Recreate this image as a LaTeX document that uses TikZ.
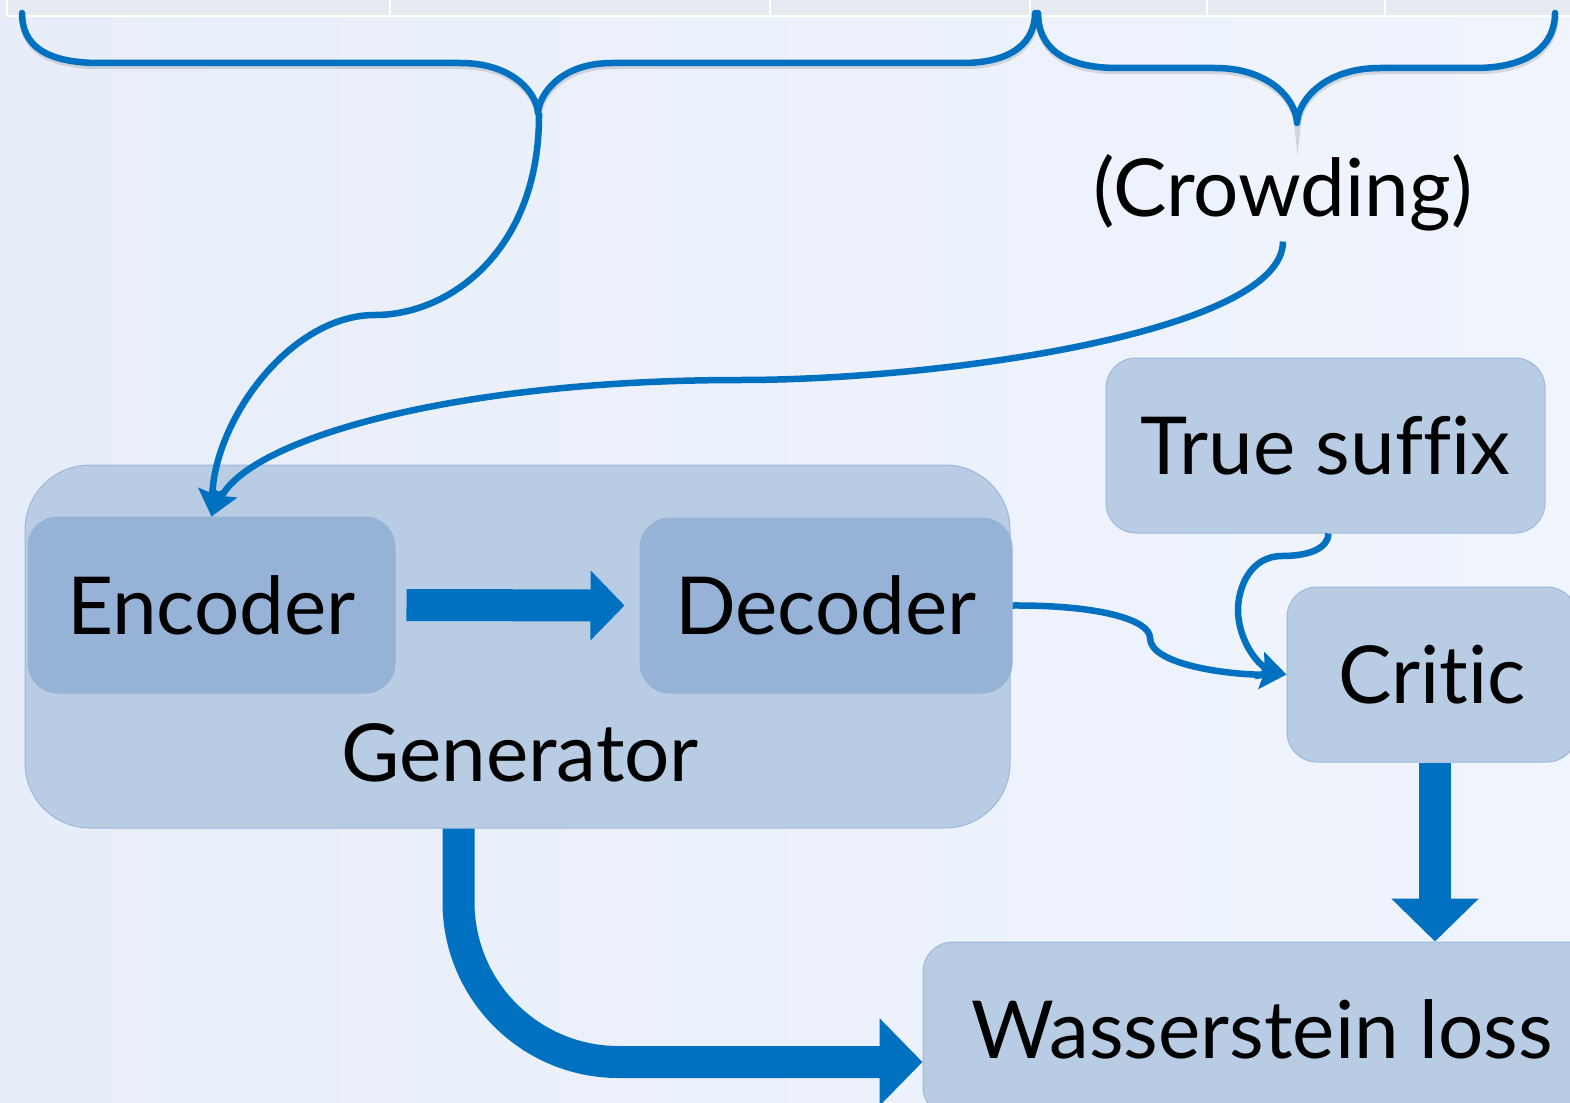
\documentclass[tikz,border=0pt]{standalone}
\usepackage{fontspec}
\setmainfont[Ligatures={NoCommon,NoContextual}]{Lato}
\usetikzlibrary{arrows.meta,calc}
\definecolor{bgL}{HTML}{E8EEF9}
\definecolor{bgR}{HTML}{EFF4FD}
\definecolor{strip}{HTML}{E6EBF2}
\definecolor{conn}{HTML}{0070C0}
\definecolor{outerfill}{HTML}{B8CCE4}
\definecolor{innerfill}{HTML}{96B3D7}
\definecolor{boxline}{HTML}{9DB8DA}
\tikzset{
  boxbase/.style={inner sep=0pt, font=\fontsize{80}{90}\selectfont},
  outerbox/.style={boxbase, draw=boxline, line width=1pt, fill=outerfill, rounded corners=30pt},
  innerbox/.style={boxbase, draw=innerfill, line width=1pt, fill=innerfill, rounded corners=30pt},
  lbl/.style={inner sep=0pt, font=\fontsize{80}{90}\selectfont},
  brace/.style={draw=conn, line width=6.5pt, line cap=round, line join=round,
    preaction={draw=black, opacity=0.12, line width=6.5pt, transform canvas={shift={(0.5pt,-3pt)}}}},
  thin/.style={draw=conn, line width=6.5pt, -{Stealth[width=28pt,length=28pt,inset=5pt]}},
  fat/.style={draw=conn, line width=32pt, -{Triangle[width=68pt,length=34pt]}},
  fatbig/.style={draw=conn, line width=32pt, -{Triangle[width=85pt,length=43pt]}},
}
\begin{document}
\begin{tikzpicture}[x=1pt,y=-1pt]
\useasboundingbox (0,0) rectangle (1570,1102);
\clip (0,0) rectangle (1570,1102);
\shade[left color=bgL, right color=bgR] (0,0) rectangle (1570,1102);
% top strip
\fill[strip] (7,0) rectangle (1570,16);
\draw[white, line width=2pt] (7,16) -- (1570,16);
\foreach \xx in {7,390,770,1030,1207,1385} \draw[white, line width=2pt] (\xx,0) -- (\xx,16);
% braces
\draw[brace] (22,13) .. controls (22,45) and (45,63) .. (100,63) -- (460,63)
  .. controls (515,63) and (537,95) .. (538,113)
  .. controls (539,95) and (560,63) .. (612,63) -- (962,63)
  .. controls (1015,63) and (1035,40) .. (1035,13);
\draw[brace] (1038,13) .. controls (1038,45) and (1060,68) .. (1118,68) -- (1215,68)
  .. controls (1270,68) and (1296,100) .. (1297,123)
  .. controls (1298,100) and (1325,68) .. (1380,68) -- (1475,68)
  .. controls (1530,68) and (1555,45) .. (1555,13);
\coordinate (lbtip) at (539,113);
\coordinate (rbtip) at (1297,123);
% boxes
\node[outerbox, rounded corners=65pt, minimum width=985pt, minimum height=363pt] (gen) at (517.5,646.5) {};
\node[innerbox, minimum width=367pt, minimum height=176pt] (enc) at (211.5,605) {Encoder};
\node[innerbox, minimum width=372pt, minimum height=175pt] (dec) at (826,605.5) {Decoder};
\node[lbl] (genlbl) at (520,753) {Generator};
\node[outerbox, minimum width=439pt, minimum height=175pt] (ts) at (1325.5,445.5) {True suffix};
\node[outerbox, minimum width=290pt, minimum height=175pt] (crit) at (1432,674.5) {Critic};
\node[outerbox, minimum width=678pt, minimum height=175pt] (wass) at (1262,1029.5) {Wasserstein loss};
\node[lbl] (crowd) at (1283,193) {(Crowding)};
% thin connectors
\draw[thin] (lbtip) .. controls (540,250) and (450,315) .. (375,315)
  .. controls (290,315) and (215,420) .. (enc.north);
\draw[thin] ([yshift=-10pt]crowd.south) .. controls (1283,330) and (950,380) .. (740,380)
  .. controls (450,380) and (250,440) .. (enc.north);
\draw[thin] (dec.east) .. controls (1100,605) and (1150,620) .. (1150,638)
  .. controls (1150,665) and (1230,675) .. (crit.west);
\draw[thin] ([xshift=3pt]ts.south) .. controls (1328,548) and (1310,556) .. (1282,556)
  .. controls (1250,556) and (1238,588) .. (1238,610)
  .. controls (1238,640) and (1258,665) .. (crit.west);
% fat arrows
\draw[fat] ([xshift=11pt]enc.east) -- ([xshift=-15pt]dec.west);
\draw[fatbig] ([xshift=3pt]crit.south) -- ([xshift=3pt]crit.south |- wass.north);
\draw[fatbig, rounded corners=160pt] ([xshift=-59pt]gen.south) |- ($(wass.west)+(0,32.5)$);
\end{tikzpicture}
\end{document}
